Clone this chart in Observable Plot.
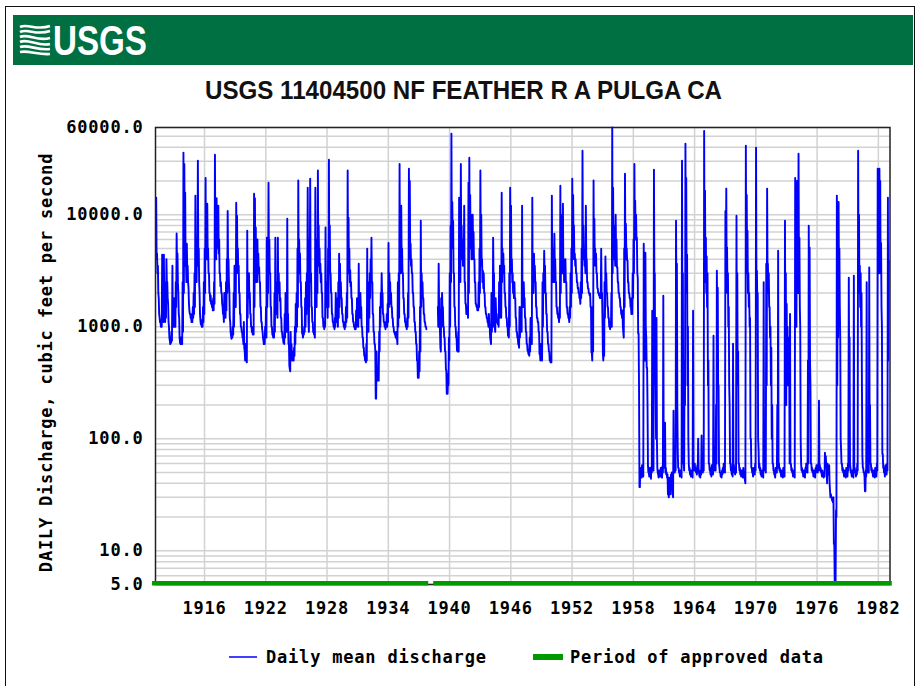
<!DOCTYPE html>
<html><head><meta charset="utf-8">
<script src="https://cdn.jsdelivr.net/npm/d3@7"></script>
<script src="https://cdn.jsdelivr.net/npm/@observablehq/plot@0.6"></script>
<style>
html,body{margin:0;padding:0;background:#fff;}
#wrap{position:relative;width:921px;height:686px;overflow:hidden;background:#fff;}
#border{position:absolute;left:5px;top:6px;width:908px;height:700px;border:1.5px solid #111;pointer-events:none;z-index:5;}
#head{position:absolute;left:0;top:0;}
#plot{position:absolute;left:0;top:110px;}
#legend{position:absolute;left:0;top:630px;}
.mono{font-family:'DejaVu Sans Mono',monospace;font-weight:bold;font-size:17px;letter-spacing:0.8px;}
</style></head><body>
<div id="wrap">
<svg id="head" width="921" height="110">
  <rect x="13" y="15" width="900" height="50" fill="#006f41"/>
  <g fill="none" stroke="#fff" stroke-width="2.6" stroke-linecap="butt">
    <path d="M20,27 C28,23 36,31 50,26"/>
    <path d="M20,32 C28,28 36,36 50,31"/>
    <path d="M20,37 C28,33 37,42 50,38"/>
    <path d="M20,42 C28,38 38,47 50,44"/>
    <path d="M20,47 C28,44 38,51 50,49"/>
    <path d="M20,52 C28,50 38,55 50,54"/>
  </g>
  <text x="53" y="55" fill="#fff" font-family="'Liberation Sans Narrow','Liberation Sans',Arial,sans-serif" font-weight="bold" font-size="42" textLength="94" lengthAdjust="spacingAndGlyphs">USGS</text>
  <text x="205" y="99" fill="#111" font-family="'Liberation Sans Narrow','Liberation Sans',Arial,sans-serif" font-weight="bold" font-size="26" textLength="517" lengthAdjust="spacingAndGlyphs">USGS 11404500 NF FEATHER R A PULGA CA</text>
</svg>
<div id="plot"></div>
<svg id="legend" width="921" height="56">
  <line x1="229" x2="257" y1="27" y2="27" stroke="#0000ff" stroke-width="1.5"/>
  <text class="mono" x="266" y="33" fill="#000">Daily mean discharge</text>
  <rect x="533" y="24" width="30" height="6" fill="#009a00"/>
  <text class="mono" x="570" y="33" fill="#000">Period of approved data</text>
</svg>
<div id="border"></div>
</div>
<script>
// Readings (cfs): per calendar month Jan..Dec, an early-month high reading (q...) and a late-month low reading (lo...); null = no record
const q1910s = [ // 1911-1919
  null,null,null,14200,4500,3500,1800,1200,1100,1150,4400,1300,
  4400,1500,2500,4000,2500,1600,1000,750,800,900,3500,1500,
  1800,1300,2500,6800,4500,2000,1200,720,800,750,2500,35800,
  28400,15700,4000,5500,3500,2200,1400,1300,1200,1300,1500,2000,
  3000,14800,4000,6000,30400,5000,2000,1130,1100,1150,1500,2500,
  5000,21300,8000,12500,5000,3000,2000,1900,1700,1600,1800,2500,
  34300,8000,14000,9000,12000,6000,3000,2500,2000,1500,1300,2000,
  1800,2500,4000,10800,4000,2000,1100,830,900,1000,2000,3500,
  3000,12800,9800,5000,3500,2000,1300,1000,900,800,1100,610
];
const lo1910s = [
  null,null,null,4000,3000,2000,1300,1100,1000,1000,1300,1100,
  1400,1100,1200,2500,1800,1100,800,700,720,750,1100,1000,
  1000,1000,1500,3500,2500,1300,800,700,700,700,900,2000,
  6000,3500,2500,3000,2500,1600,1300,1200,1100,1100,1200,1300,
  1500,2500,2500,3500,4500,2500,1300,1050,1000,1000,1100,1300,
  2000,4000,4000,4500,3000,2000,1700,1600,1500,1400,1400,1600,
  5000,4000,5000,5000,4500,3000,2300,2000,1600,1300,1100,1300,
  1200,1400,2000,3500,2500,1200,900,780,800,850,1000,1500,
  1500,3000,4000,3000,2000,1300,1000,900,800,700,650,500
];
const q1920s = [ // 1920-1929
  700,500,7200,2500,3000,2000,1300,1000,900,1000,15400,14000,
  7700,5000,6000,4500,3400,2500,1500,1100,900,750,800,1000,
  1500,6230,3000,19300,6000,3000,1500,1000,850,900,2000,6230,
  2500,1800,6230,3000,2500,1800,1200,900,800,720,1300,2000,
  1500,9200,1300,700,420,900,700,600,550,650,1000,1600,
  2000,5000,20200,6000,4500,2500,1500,870,900,1000,1800,2500,
  3000,17400,1100,6000,21000,3000,1500,1100,900,870,17400,3000,
  6000,24800,8000,5000,3650,3000,2000,1200,1000,1100,7700,2500,
  2000,5000,30900,8000,3000,2000,1300,1100,1000,1200,2000,1800,
  1500,2500,4490,3650,2500,1800,1300,1100,1000,1100,1500,2000
];
const lo1920s = [
  500,480,1200,1800,1800,1300,1000,900,850,850,1500,3000,
  2500,2500,3000,3000,2500,1500,1100,950,800,700,700,800,
  800,1500,2000,4000,3000,1500,1000,850,800,800,900,1500,
  1300,1200,2000,2000,1700,1200,900,800,720,700,800,1200,
  900,1000,700,450,400,500,550,500,500,550,700,900,
  1000,1500,3000,3500,2500,1500,870,800,850,900,1000,1300,
  1500,2500,900,2500,3000,1500,1100,900,850,800,1500,1500,
  2000,4000,3500,3000,2500,2000,1200,1000,950,1000,1500,1500,
  1200,1500,3000,3000,2000,1300,1100,1000,950,1000,1100,1200,
  1000,1200,1500,2000,1800,1300,1100,1000,950,1000,1100,1200
];
const q1930s = [ // 1930-1939
  24800,9400,5000,3200,2500,1800,1300,1100,1000,1000,1400,1800,
  1500,3650,1800,2000,1500,1000,800,650,550,500,700,4970,
  1500,2500,3000,4000,6230,2500,1300,900,700,228,600,400,
  330,900,1500,2000,3000,2000,1300,1100,1000,1100,1300,1600,
  5600,3000,2500,2000,1500,1200,1000,900,850,900,780,2500,
  3000,28400,6000,12000,5000,3000,1800,1300,1100,1000,1200,2000,
  25700,20000,5500,4000,3000,2000,1500,1100,900,700,500,350,
  600,1500,8830,3000,2500,1800,1300,1100,1000,null,null,null,
  null,null,null,null,null,null,null,null,null,null,1500,3650,
  1200,650,1800,2000,1500,1000,800,600,400,252,380,800
];
const lo1930s = [
  3000,3000,2500,2300,1800,1300,1100,1000,950,950,1000,1200,
  1000,1200,1200,1400,1000,800,650,550,500,480,500,900,
  900,1200,1800,2500,2500,1300,900,700,600,228,400,330,
  330,600,1000,1500,2000,1300,1100,1000,950,1000,1000,1100,
  1500,1800,1600,1500,1200,1000,900,850,800,780,700,1000,
  1200,3000,3000,4000,3000,1800,1300,1100,1000,950,1000,1200,
  4000,4500,3500,3000,2000,1500,1100,900,700,500,350,350,
  400,600,1500,2000,1800,1300,1100,1000,950,null,null,null,
  null,null,null,null,null,null,null,null,null,null,1000,1500,
  900,600,1000,1400,1000,800,600,420,252,252,300,500
];
const q1940s = [ // 1940-1949
  3000,8000,52700,13000,8800,3000,1500,1000,800,610,900,14200,
  5000,28400,8000,6000,5000,12000,2500,1600,1300,1500,19300,32200,
  15000,10000,6000,10000,7000,4000,2500,1600,1500,1500,2500,5000,
  24800,10000,4000,3160,3000,2000,1500,1300,1200,1100,1300,1000,
  750,2000,1500,6230,3000,980,1800,1300,1100,1100,2500,3500,
  2000,15700,5000,4500,3500,2000,1500,1200,1000,830,3000,17400,
  12000,4000,3000,2200,2500,1800,1200,900,800,700,1500,1200,
  1500,12000,2000,2500,1800,1200,900,700,610,570,800,1200,
  1000,14200,3000,4490,3500,2500,1500,1200,1100,900,570,700,
  570,2500,3000,4760,3500,2000,1300,900,700,600,500,500
];
const lo1940s = [
  1000,2500,5000,6000,3000,1500,1000,800,610,600,600,2500,
  2500,4000,4000,3500,3500,2500,1600,1300,1300,1200,2000,5000,
  5000,4000,4000,5000,4000,2500,1600,1500,1400,1400,1500,2000,
  4000,3500,2500,2200,2000,1500,1300,1200,1100,1000,1000,800,
  700,900,1000,2500,1000,900,1300,1100,1050,1000,1200,1500,
  1200,2500,3000,3000,2000,1500,1200,1000,830,800,1000,3000,
  3000,2500,2000,1800,1800,1200,900,800,700,650,800,900,
  900,1500,1500,1800,1200,900,700,610,570,550,600,800,
  700,2000,2000,3000,2500,1500,1200,1100,900,570,500,570,
  500,1000,2000,3000,2000,1300,900,700,600,500,480,480
];
const q1950s = [ // 1950-1959
  14800,5000,3000,6780,4000,2500,1500,1300,1200,1500,18100,10000,
  8000,12500,4000,3000,4000,2500,1500,1300,1200,1500,3000,5000,
  21000,15000,8000,4490,4000,3000,2500,2230,2000,1800,2500,5000,
  37200,8000,5000,3900,12000,4000,2500,2200,2000,1970,1500,590,
  1500,20200,9200,5000,4490,3000,2200,2000,1900,2000,4970,2000,
  570,700,2500,4240,3000,2000,1500,1200,1000,1100,2000,60000,
  17400,8000,5000,10000,6000,3400,2500,2000,1800,1500,1300,1400,
  885,5000,23200,8300,5000,3900,2500,2000,1800,1500,1800,3000,
  6000,28400,13300,10000,6230,2740,870,37,55,50,58,52,
  5500,1200,4580,800,430,58,50,55,48,56,1390,60
];
const lo1950s = [
  3000,2500,2500,3500,2500,1500,1300,1200,1100,1200,2000,3000,
  3000,3000,2500,2500,2500,1500,1300,1200,1100,1200,1500,2000,
  4000,5000,4000,3500,3000,2500,2200,2000,1800,1600,1800,2000,
  5000,4000,3500,3000,4000,2500,2200,2000,1900,1500,590,500,
  600,3500,4000,3500,3000,2200,2000,1900,1800,1800,2000,1200,
  500,550,1200,2500,2000,1500,1200,1000,950,1000,1000,3000,
  4000,4000,3500,5000,3400,2500,2000,1800,1500,1300,1200,1000,
  800,1500,4000,5000,3900,2500,2000,1800,1500,1300,1300,1800,
  3000,6000,6000,6000,3000,870,300,37,48,45,50,46,
  1500,500,1000,430,200,50,46,48,44,50,55,52
];
const q1960s = [ // 1960-1969
  25200,3000,300,1200,55,48,52,50,55,49,57,1890,
  60,139,55,50,48,32,45,42,48,50,32,178,
  55,60,8830,3650,80,55,50,52,48,30400,3000,60,
  500,43000,21300,4400,1000,60,55,50,52,48,1390,60,
  60,55,52,58,100,50,48,52,107,55,60,56000,
  16400,6230,4240,3000,500,60,55,50,58,52,830,60,
  60,200,3160,2230,300,55,50,48,52,55,60,55,
  10800,17100,5100,3000,1500,200,60,55,50,705,58,52,
  55,9800,3000,600,60,55,50,52,48,55,50,42,
  41300,15000,7200,3000,2000,1200,100,55,50,55,52,60
];
const lo1960s = [
  3000,300,100,100,50,45,48,46,50,45,50,55,
  55,50,48,45,32,30,40,32,42,45,30,50,
  50,52,1500,200,55,50,46,48,45,1000,60,52,
  200,3000,2000,300,100,52,48,46,48,45,60,52,
  52,50,48,50,55,46,45,48,52,50,52,3000,
  2500,2000,1500,300,60,52,48,46,50,48,55,52,
  52,60,800,300,60,50,46,45,48,50,52,50,
  2000,2500,2000,1000,300,60,52,48,46,60,50,48,
  50,400,300,60,52,48,46,48,45,48,45,40,
  3000,3000,2000,1500,1000,100,55,50,46,50,48,52
];
const q1970s = [ // 1970-1979
  39700,3160,2000,80,60,55,50,52,48,2490,60,55,
  3650,17100,3650,3000,1500,1000,650,200,60,52,48,55,
  55,200,4760,60,55,50,52,48,55,50,8830,3000,
  1600,1000,800,500,1300,60,55,50,52,48,21300,10000,
  20000,5000,35000,6230,980,60,55,50,52,48,55,60,
  55,500,7960,5100,300,60,55,50,52,48,55,58,
  55,60,219,58,55,50,52,48,50,75,70,55,
  60,55,58,34,32,30,28,30,11.5,5.2,23,14800,
  2230,13000,5000,800,80,60,55,50,52,48,55,50,
  60,2740,800,55,50,52,48,2850,55,50,52,60
];
const lo1970s = [
  2000,1500,100,55,52,48,46,48,45,55,52,50,
  300,3000,2000,1500,800,300,100,60,52,48,45,50,
  50,55,60,52,50,46,48,45,50,46,300,200,
  300,300,300,60,60,52,50,46,48,45,2000,1000,
  3000,2000,3000,1500,100,52,50,46,48,45,50,52,
  50,60,1500,500,60,52,50,46,48,45,50,52,
  50,52,60,52,50,46,48,45,46,60,55,40,
  50,48,40,30,30,28,27,11.5,5.2,5.2,20,300,
  800,2000,1500,100,60,52,50,46,48,45,50,46,
  52,300,60,50,46,48,45,52,50,46,48,52
];
const q1980s = [ // 1980-1983
  37200,10000,3500,3000,2000,70,55,50,34,52,2490,55,
  55,3380,200,60,55,50,52,48,55,50,60,25700,
  13000,25700,20000,5600,1000,73,55,50,58,52,60,14200,
  3900
];
const lo1980s = [
  3000,2000,1500,1000,300,55,50,46,34,46,60,50,
  50,100,60,52,50,46,48,45,50,46,52,3000,
  3000,5000,3000,1500,73,55,50,46,52,48,52,500,
  null
];
const decadeStarts = [1911, 1920, 1930, 1940, 1950, 1960, 1970, 1980];
const decadeHigh = [q1910s, q1920s, q1930s, q1940s, q1950s, q1960s, q1970s, q1980s];
const decadeLow = [lo1910s, lo1920s, lo1930s, lo1940s, lo1950s, lo1960s, lo1970s, lo1980s];

const yTicks = [5, 10, 100, 1000, 10000, 60000];
const xTickYears = [1916, 1922, 1928, 1934, 1940, 1946, 1952, 1958, 1964, 1970, 1976, 1982];
const approvedStart = ["1910-11-28", "1938-06-13"];
const approvedEnd = ["1937-12-16", "1983-05-15"];
const yLabel = "DAILY Discharge, cubic feet per second";

const num = v => (v == null ? NaN : v);
const series = decadeStarts.flatMap((y0, k) => decadeHigh[k].flatMap((q, i) => {
  const y = y0 + Math.floor(i / 12), m = i % 12;
  return [
    {date: new Date(Date.UTC(y, m, 8)), q: num(q)},
    {date: new Date(Date.UTC(y, m, 23)), q: num(decadeLow[k][i])}
  ];
}));
const xTicks = xTickYears.map(y => new Date(Date.UTC(y, 0, 1)));
const yGrid = [1, 10, 100, 1000, 10000].flatMap(d => [1,2,3,4,5,6,7,8,9].map(m => m * d)).filter(v => v >= 5 && v <= 60000);
const approved = approvedStart.map((s, i) => ({start: new Date(s), end: new Date(approvedEnd[i])}));

const chart = Plot.plot({
  width: 921,
  height: 510,
  marginLeft: 155,
  marginRight: 31.5,
  marginTop: 17,
  marginBottom: 36,
  style: "background:white;color:#000;font-family:'DejaVu Sans Mono',monospace;font-size:17px;font-weight:bold;letter-spacing:0.8px;",
  x: {type: "utc", domain: [new Date(Date.UTC(1911, 2, 14)), new Date(Date.UTC(1983, 1, 21))],
      ticks: xTicks, tickFormat: d3.utcFormat("%Y"), tickSize: 0, tickPadding: 17, label: null},
  y: {type: "log", domain: [5, 60000], axis: null},
  marks: [
    Plot.ruleY(yGrid, {stroke: "#d2d2d2", strokeWidth: 1.5}),
    Plot.ruleX(xTicks, {stroke: "#d2d2d2", strokeWidth: 1.5}),
    Plot.line(series, {x: "date", y: "q", stroke: "#0000ff", strokeWidth: 1.9}),
    Plot.frame({stroke: "#222", strokeWidth: 1.5}),
    Plot.ruleY(approved, {x1: "start", x2: "end", y: () => 5, dy: -1.3, stroke: "#009a00", strokeWidth: 4.5}),
    Plot.text(yTicks, {y: d => d, text: d => d3.format(".1f")(d), frameAnchor: "left", dx: -12,
      textAnchor: "end", fill: "#000", fontSize: 17, fontWeight: "bold"}),
    Plot.text([yLabel], {text: d => d, frameAnchor: "left", dx: -109, dy: 6.5, rotate: -90,
      textAnchor: "middle", fill: "#000", fontSize: 17, fontWeight: "bold"})
  ]
});
document.getElementById("plot").appendChild(chart);
</script>
</body></html>
